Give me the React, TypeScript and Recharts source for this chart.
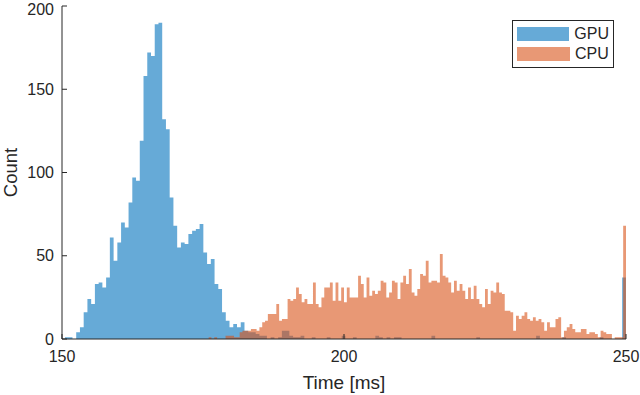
import { Area, ComposedChart, Legend, XAxis, YAxis } from 'recharts'

// histogram bins (ms) and counts
const GPU_START = 150.53
const GPU_BIN = 0.663
const GPU_COUNTS = [
  1, 1, 0, 4, 7, 16, 24, 21, 33, 34,
  31, 37, 61, 47, 58, 70, 67, 82, 97, 95,
  119, 158, 172, 170, 189, 190, 132, 126, 85, 68,
  55, 58, 57, 63, 65, 66, 69, 52, 45, 48,
  33, 30, 16, 11, 7, 9, 7, 10, 5, 4,
  4, 3, 2, 2, 0, 1, 0, 1, 5, 5,
  2, 1, 1, 2, 0, 0, 1, 0, 0, 0,
  1, 0, 0, 0, 2, 0, 0, 1, 0, 0,
  0, 0, 0, 2, 1, 0, 1, 0, 1, 1,
  0, 0, 0, 0, 0, 0, 0, 0, 2, 0,
  0, 0, 0, 0, 0, 0, 0, 0, 0, 0,
  1, 0, 0, 0, 0, 0, 0, 0, 0, 0,
  0, 0, 0, 0, 0, 0, 2, 0, 0, 0,
  0, 0, 0, 1, 0, 0, 0, 0, 0, 0,
  0, 0, 0, 1, 0, 0, 0, 0, 0, 37,
]

const CPU_START = 176
const CPU_BIN = 0.5
const CPU_COUNTS = [
  1, 0, 1, 0, 0, 0, 2, 2, 2, 1,
  1, 4, 5, 5, 5, 6, 6, 5, 7, 10,
  11, 15, 15, 15, 21, 11, 12, 12, 24, 23,
  24, 31, 27, 22, 24, 21, 21, 34, 21, 19,
  25, 31, 31, 34, 23, 34, 23, 31, 22, 31,
  25, 25, 25, 38, 33, 25, 37, 26, 29, 27,
  29, 35, 34, 25, 28, 35, 34, 24, 34, 38,
  33, 42, 28, 26, 30, 39, 38, 47, 34, 35,
  35, 34, 51, 38, 37, 34, 28, 35, 29, 33,
  29, 24, 31, 24, 32, 24, 21, 19, 30, 21,
  29, 28, 34, 28, 27, 17, 17, 16, 5, 14,
  12, 14, 16, 12, 11, 13, 11, 12, 10, 5,
  10, 7, 7, 12, 13, 1, 5, 7, 9, 6,
  4, 4, 6, 6, 3, 4, 4, 3, 1, 5,
  4, 3, 3, 0, 1, 1, 1, 68,
]

const X_TICKS = [150, 200, 250]
const Y_TICKS = [0, 50, 100, 150, 200]
const SERIES = [
  { name: 'GPU', color: '#0072BD' },
  { name: 'CPU', color: '#D95319' },
]

const AXIS = '#262626'
const FONT = '"Liberation Sans", Arial, Helvetica, sans-serif'

// step rows: one point per left bin edge, plus the closing right edge
function toSteps(start: number, bin: number, counts: number[], key: string) {
  const rows = counts.map((c, i) => ({ x: start + i * bin, [key]: c }))
  rows.push({ x: start + counts.length * bin, [key]: counts[counts.length - 1] })
  return rows
}

const gpuRows = toSteps(GPU_START, GPU_BIN, GPU_COUNTS, 'gpu')
const cpuRows = toSteps(CPU_START, CPU_BIN, CPU_COUNTS, 'cpu')

function HistLegend() {
  return (
    <div
      style={{
        border: `1px solid ${AXIS}`,
        background: '#fff',
        padding: '3px 4px 3px 4px',
        width: 92,
        fontFamily: FONT,
        fontSize: 16,
        color: AXIS,
      }}
    >
      {SERIES.map((s) => (
        <div key={s.name} style={{ display: 'flex', alignItems: 'center', height: 20 }}>
          <div style={{ width: 53, height: 14, background: s.color, opacity: 0.6, marginRight: 5 }} />
          <span>{s.name}</span>
        </div>
      ))}
    </div>
  )
}

export default function App() {
  return (
    <div style={{ position: 'absolute', left: 0, top: 0, width: 640, height: 395, fontFamily: FONT, background: '#fff' }}>
      <ComposedChart width={640} height={395} margin={{ top: 6, right: 14, bottom: 0, left: 0 }}>
        <XAxis
          xAxisId="x"
          type="number"
          dataKey="x"
          domain={[150, 250]}
          ticks={X_TICKS}
          allowDataOverflow
          height={56}
          tickSize={-5}
          tickMargin={17}
          stroke={AXIS}
          tick={{ fill: AXIS, fontSize: 16 }}
          label={{ value: 'Time [ms]', position: 'insideBottom', offset: 6, style: { fill: AXIS, fontSize: 19 } }}
        />
        <XAxis
          xAxisId="top"
          orientation="top"
          type="number"
          dataKey="x"
          domain={[150, 250]}
          ticks={X_TICKS}
          allowDataOverflow
          height={0}
          tickSize={-5}
          tickFormatter={() => ''}
          stroke={AXIS}
        />
        <YAxis
          type="number"
          domain={[0, 200]}
          ticks={Y_TICKS}
          allowDataOverflow
          width={62}
          tickSize={-5}
          tickMargin={13}
          stroke={AXIS}
          tick={{ fill: AXIS, fontSize: 16 }}
          label={{
            value: 'Count',
            angle: -90,
            position: 'insideLeft',
            offset: 10,
            style: { fill: AXIS, fontSize: 18.5, textAnchor: 'middle' },
          }}
        />
        <YAxis
          yAxisId="right"
          orientation="right"
          type="number"
          domain={[0, 200]}
          ticks={Y_TICKS}
          allowDataOverflow
          width={0}
          tickSize={-5}
          tickFormatter={() => ''}
          stroke={AXIS}
        />
        <Area
          xAxisId="x"
          data={gpuRows}
          dataKey="gpu"
          name="GPU"
          type="stepAfter"
          fill={SERIES[0].color}
          fillOpacity={0.6}
          stroke="none"
          dot={false}
          activeDot={false}
          isAnimationActive={false}
        />
        <Area
          xAxisId="x"
          data={cpuRows}
          dataKey="cpu"
          name="CPU"
          type="stepAfter"
          fill={SERIES[1].color}
          fillOpacity={0.6}
          stroke="none"
          dot={false}
          activeDot={false}
          isAnimationActive={false}
        />
        <Legend
          layout="vertical"
          align="center"
          verticalAlign="middle"
          content={() => <HistLegend />}
          wrapperStyle={{ left: 512, top: 20, width: 'auto' }}
        />
      </ComposedChart>
    </div>
  )
}
